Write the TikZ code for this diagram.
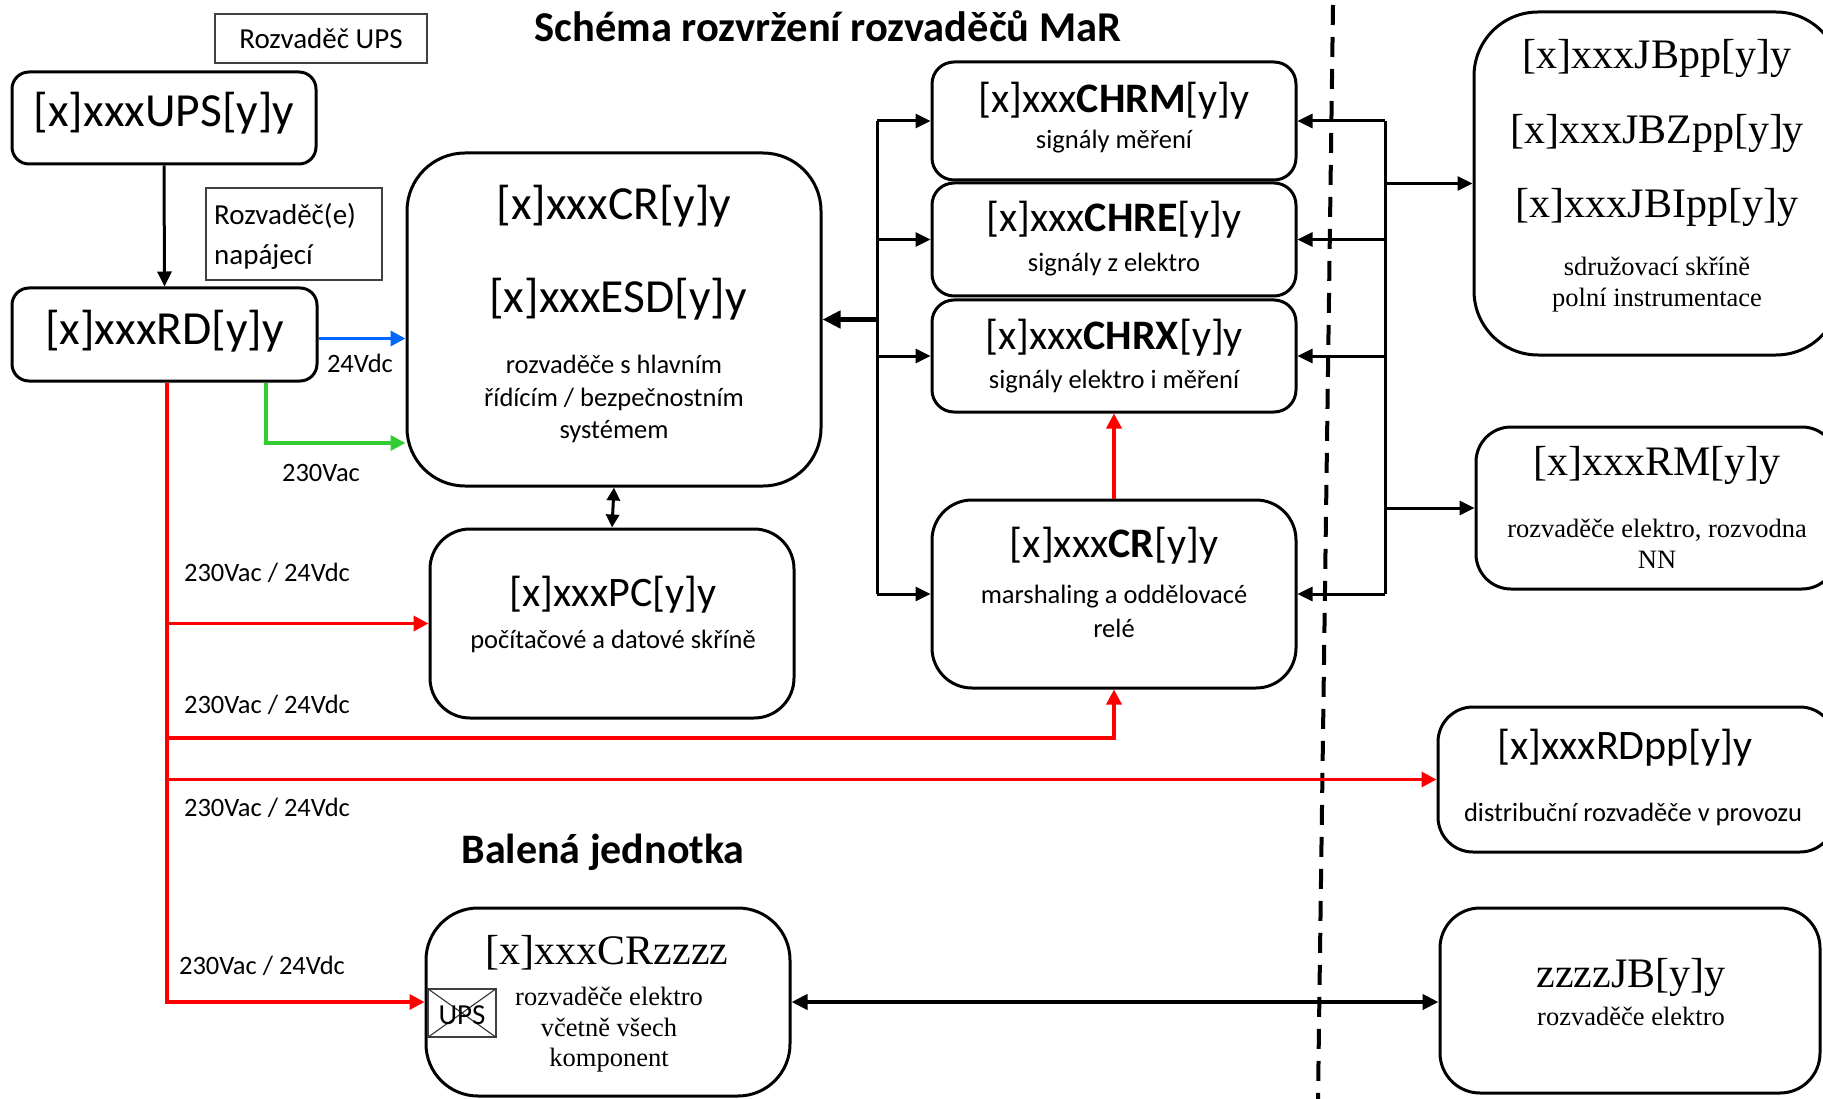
\documentclass[tikz,border=0pt]{standalone}
\usepackage{fontspec}
\setmainfont{Carlito}
\newfontfamily\tnr{Liberation Serif}
\usetikzlibrary{arrows.meta,calc}
\definecolor{cblue}{RGB}{0,102,255}
\definecolor{cgreen}{RGB}{51,204,51}
\definecolor{cred}{RGB}{255,0,0}
\newcommand\fsz[2]{\fontsize{#1pt}{#2pt}\selectfont}
\begin{document}
\begin{tikzpicture}[x=1pt,y=-1pt,
  box/.style={draw, line width=3pt, inner sep=0pt},
  lblbox/.style={draw=black!75, line width=1.4pt, inner sep=0pt},
  txt/.style={inner sep=0pt, align=center},
  big/.style={txt, font=\fsz{47.5}{56}},
  mid/.style={txt, font=\fsz{42}{50}},
  sub/.style={txt, font=\fsz{26.5}{32.5}},
  lab/.style={txt, font=\fsz{29}{40}},
  tbig/.style={txt, font=\tnr\fsz{42}{50}},
  tsub/.style={txt, font=\tnr\fsz{26.5}{30.5}},
  conn/.style={line width=3pt, -{Triangle[length=15pt,width=14pt]}},
  dconn/.style={line width=3pt, {Triangle[length=13pt,width=13pt]}-{Triangle[length=13pt,width=13pt]}},
  redarr/.style={cred, line width=3.5pt, -{Triangle[length=15pt,width=15pt]}},
]
\useasboundingbox (0,0) rectangle (1823,1099);
\clip (0,0) rectangle (1823,1099);

% title
\node[txt, font=\bfseries\fsz{42.5}{50}] (title) at (828,26) {Schéma rozvržení rozvaděčů MaR};
\node[txt, font=\bfseries\fsz{42}{50}] (balena) at (603,852) {Balená jednotka};

% label boxes
\node[lblbox, minimum width=212pt, minimum height=49pt, font=\fsz{29}{40}] (lblUPS) at (321,38.5) {Rozvaděč UPS};
\node[lblbox, minimum width=176pt, minimum height=92pt] (lblRD) at (294,234) {};
\node[lab, anchor=west, align=left] (lblRDt) at (214,236) {Rozvaděč(e)\\napájecí};

% left column
\node[box, rounded corners=17pt, minimum width=304pt, minimum height=92pt] (UPS) at (164,118) {};
\node[big] (UPSt) at (164,113) {[x]xxxUPS[y]y};
\node[box, rounded corners=17pt, minimum width=305pt, minimum height=93pt] (RD) at (164.5,334.5) {};
\node[big] (RDt) at (164.5,331) {[x]xxxRD[y]y};

% CR / ESD
\node[box, rounded corners=58pt, minimum width=414pt, minimum height=333pt] (CRESD) at (614,319.5) {};
\node[big] (CRt) at (614,206) {[x]xxxCR[y]y};
\node[big] (ESDt) at (618,299) {[x]xxxESD[y]y};
\node[sub] (CRESDs) at (614,399) {rozvaděče s hlavním\\řídícím / bezpečnostním\\systémem};

% PC
\node[box, rounded corners=40pt, minimum width=364pt, minimum height=189pt] (PC) at (612,623.5) {};
\node[mid] (PCt) at (613,595) {[x]xxxPC[y]y};
\node[sub] (PCs) at (613,641) {počítačové a datové skříně};

% CHR boxes
\node[box, rounded corners=22pt, minimum width=364pt, minimum height=118pt] (CHRM) at (1114,121) {};
\node[mid] (CHRMt) at (1114,101) {[x]xxx\textbf{CHRM}[y]y};
\node[sub] (CHRMs) at (1114,142) {signály měření};
\node[box, rounded corners=22pt, minimum width=364pt, minimum height=113pt] (CHRE) at (1114,239.5) {};
\node[mid] (CHREt) at (1114,220) {[x]xxx\textbf{CHRE}[y]y};
\node[sub] (CHREs) at (1114,265) {signály z elektro};
\node[box, rounded corners=22pt, minimum width=364pt, minimum height=112pt] (CHRX) at (1114,356) {};
\node[mid] (CHRXt) at (1114,338) {[x]xxx\textbf{CHRX}[y]y};
\node[sub] (CHRXs) at (1114,382) {signály elektro i měření};
\node[box, rounded corners=40pt, minimum width=364pt, minimum height=188pt] (CRm) at (1114,594) {};
\node[mid] (CRmt) at (1114,546) {[x]xxx\textbf{CR}[y]y};
\node[sub, font=\fsz{26.5}{34}] (CRms) at (1114,611) {marshaling a oddělovacé\\relé};

% right column
\node[box, rounded corners=64pt, minimum width=366pt, minimum height=343pt] (JB) at (1657,183.5) {};
\node[tbig] (JBt1) at (1657,58) {[x]xxxJBpp[y]y};
\node[tbig] (JBt2) at (1657,133) {[x]xxxJBZpp[y]y};
\node[tbig] (JBt3) at (1657,207) {[x]xxxJBIpp[y]y};
\node[tsub, font=\tnr\fsz{26.5}{31}] (JBs) at (1657,284.5) {sdružovací skříně\\polní instrumentace};

\node[box, rounded corners=35pt, minimum width=361pt, minimum height=162pt] (RM) at (1656.5,508) {};
\node[tbig] (RMt) at (1657,465) {[x]xxxRM[y]y};
\node[tsub] (RMs) at (1657,544) {rozvaděče elektro, rozvodna\\NN};

\node[box, rounded corners=35pt, minimum width=397pt, minimum height=145pt] (RDpp) at (1636.5,779.5) {};
\node[mid] (RDppt) at (1625,748) {[x]xxxRDpp[y]y};
\node[sub] (RDpps) at (1633,814) {distribuční rozvaděče v provozu};

\node[box, rounded corners=40pt, minimum width=380pt, minimum height=185pt] (zJB) at (1630,1000.5) {};
\node[tbig] (zJBt) at (1631,977) {zzzzJB[y]y};
\node[tsub] (zJBs) at (1631,1016) {rozvaděče elektro};

% packaged unit
\node[box, rounded corners=52pt, minimum width=364pt, minimum height=188pt] (CRz) at (608,1002) {};
\node[tbig] (CRzt) at (607,953) {[x]xxxCRzzzz};
\node[tsub] (CRzs) at (609,1030) {rozvaděče elektro\\včetně všech\\komponent};
\node[lblbox, line width=1.3pt, minimum width=68pt, minimum height=48pt] (UPSx) at (462,1013) {};
\draw[black!80, line width=1.1pt] (UPSx.north west) -- (UPSx.south east) (UPSx.south west) -- (UPSx.north east);
\node[txt, font=\fsz{29}{34}] (UPSxt) at (462,1015) {UPS};

% separator
\coordinate (dtop) at (1333,5);
\coordinate (dbot) at (1318,1099);
\draw[line width=4pt, dash pattern=on 20pt off 12pt] (dtop) -- (dbot);

% power connectors
\draw[conn] (UPS.south) -- (RD.north);
\draw[cblue, line width=3.5pt, -{Triangle[length=15pt,width=15pt]}] ([yshift=-4pt]RD.east) -- ([yshift=-4pt]RD.east -| CRESD.west);
\node[sub] (l24) at (360,363) {24Vdc};
\coordinate (gc) at (266,443);
\draw[cgreen, line width=3.5pt, -{Triangle[length=15pt,width=15pt]}] (RD.south -| gc) -- (gc) -- (gc -| CRESD.west);
\node[sub] (l230) at (321,473) {230Vac};

\coordinate (rx) at (167,0);
\draw[redarr] (RD.south -| rx) -- (rx |- CRz.west) -- (CRz.west);
\draw[redarr] (rx |- PC.west) -- (PC.west);
\coordinate (rc) at (1114,738);
\draw[redarr] (rc -| rx) -- (rc) -- (CRm.south);
\draw[redarr] (rx |- RDpp.west) -- (RDpp.west);
\draw[redarr] (CRm.north) -- (CHRX.south);
\node[sub] (lr1) at (267,573) {230Vac / 24Vdc};
\node[sub] (lr2) at (267,705) {230Vac / 24Vdc};
\node[sub] (lr3) at (267,808) {230Vac / 24Vdc};
\node[sub] (lr4) at (262,966) {230Vac / 24Vdc};

% signal connectors
\draw[dconn] (CRESD.south) -- (PC.north);
\coordinate (lb) at (877,0);
\draw[line width=3pt] (lb |- CHRM.west) -- (lb |- CRm.west);
\draw[line width=5pt, -{Triangle[length=18pt,width=17pt]}] (lb |- CRESD.east) -- (CRESD.east);
\draw[conn] (lb |- CHRM.west) -- (CHRM.west);
\draw[conn] (lb |- CHRE.west) -- (CHRE.west);
\draw[conn] (lb |- CHRX.west) -- (CHRX.west);
\draw[conn] (lb |- CRm.west) -- (CRm.west);

\coordinate (rb) at (1385,0);
\draw[line width=3pt] (rb |- CHRM.east) -- (rb |- CRm.east);
\draw[conn] (rb |- CHRM.east) -- (CHRM.east);
\draw[conn] (rb |- CHRE.east) -- (CHRE.east);
\draw[conn] (rb |- CHRX.east) -- (CHRX.east);
\draw[conn] (rb |- CRm.east) -- (CRm.east);
\draw[conn] (rb |- JB.west) -- (JB.west);
\draw[conn] (rb |- RM.west) -- (RM.west);

\draw[line width=4pt, {Triangle[length=16pt,width=15pt]}-{Triangle[length=16pt,width=15pt]}] (CRz.east) -- (CRz.east -| zJB.west);
\end{tikzpicture}
\end{document}
